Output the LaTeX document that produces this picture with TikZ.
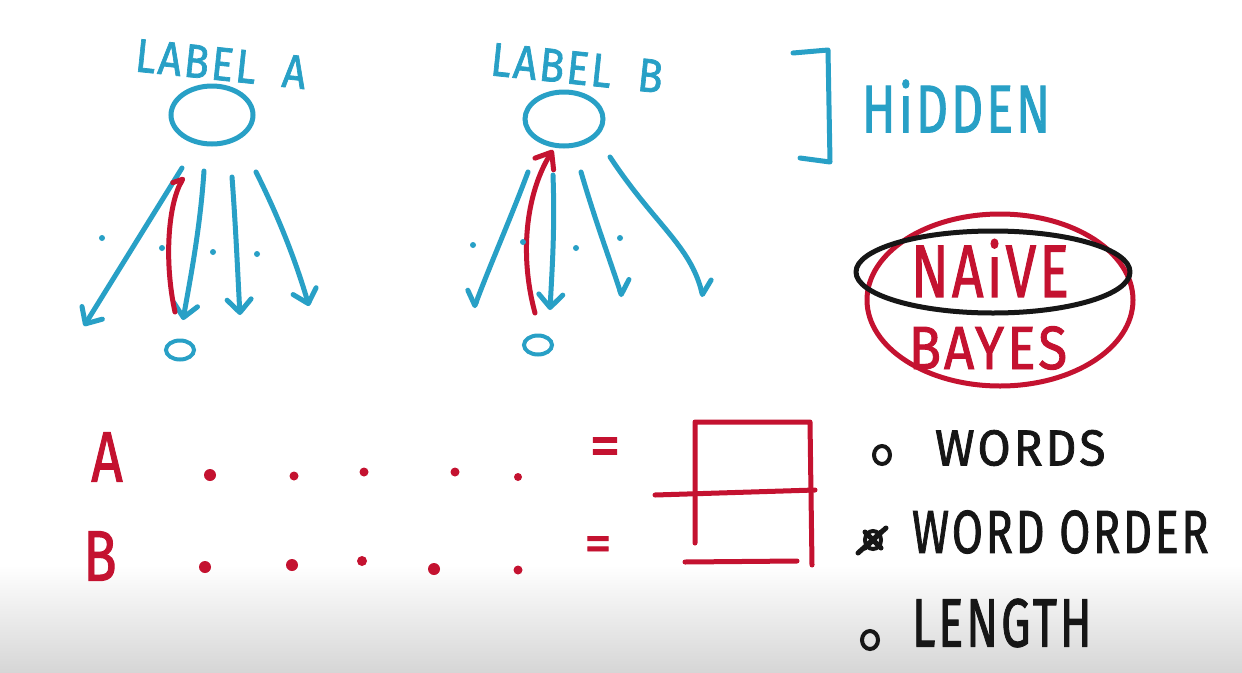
\documentclass[tikz,border=0pt]{standalone}
\usepackage{graphicx}
\usepackage{fontspec}
\newfontfamily\handfont[LetterSpace=6, FakeBold=1.6]{Fira Sans}
\usetikzlibrary{positioning,arrows.meta,shapes.geometric}
\definecolor{markerblue}{RGB}{40,160,198}
\definecolor{markerred}{RGB}{196,18,48}
\definecolor{markerblack}{RGB}{22,22,22}
\newcommand{\penword}[2]{\scalebox{1}[#1]{#2}}

\begin{document}
\begin{tikzpicture}[
    x=1pt, y=-1pt,
    every node/.style={inner sep=0pt, outer sep=0pt},
    hand/.style={font={\handfont\fontsize{#1}{#1}\selectfont}},
    bluetext/.style={hand=#1, text=markerblue},
    redtext/.style={hand=#1, text=markerred},
    blacktext/.style={hand=#1, text=markerblack},
    pen/.style={line width=5pt, line cap=round, line join=round},
    blueline/.style={pen, draw=markerblue},
    redline/.style={pen, draw=markerred},
    blackline/.style={pen, draw=markerblack},
    bluearrow/.style={blueline, -{Straight Barb[length=13pt, width=24pt, round]}},
    bluehookleft/.style={blueline, -{Straight Barb[left, length=12pt, width=24pt, round]}},
    bluehookright/.style={blueline, -{Straight Barb[right, length=12pt, width=24pt, round]}},
    redarrow/.style={redline, -{Straight Barb[length=14pt, width=22pt, round]}},
    redhook/.style={redline, -{Straight Barb[left, length=8pt, width=14pt, round]}},
    hidnode/.style={draw=markerblue, line width=5pt, ellipse},
    obsnode/.style={draw=markerblue, line width=4pt, ellipse, minimum width=28pt, minimum height=19pt},
    bullet/.style={draw=markerblack, line width=4pt, ellipse, minimum width=16pt, minimum height=18pt},
]
\useasboundingbox (0,0) rectangle (1242,672);
\fill[white] (0,0) rectangle (1242,672);
\shade[top color=white, bottom color=black!16] (0,565) rectangle (1242,672);

% ---- Left tree: Label A ----
\node[bluetext=41, rotate=-6] (labelA) at (221,64) {\penword{1.15}{LABEL\ \ A}};
\node[hidnode, minimum width=82pt, minimum height=58pt] (hidA) at (212,115) {};
\node[obsnode] (obsA) at (180,350) {};

\coordinate (a1top) at (182,168);
\coordinate (a1end) at (84,326);
\coordinate (a2top) at (204,171);
\coordinate (a2end) at (183,320);
\coordinate (a3top) at (232,177);
\coordinate (a3end) at (240,315);
\coordinate (a4top) at (256,172);
\coordinate (a4end) at (309,306);
\draw[bluearrow] (a1top) -- (a1end);
\draw[bluearrow] (a2top) .. controls (200,230) and (190,280) .. (a2end);
\draw[bluearrow] (a3top) .. controls (236,230) and (238,280) .. (a3end);
\draw[bluearrow] (a4top) .. controls (280,220) and (296,262) .. (a4end);

% red path back up
\coordinate (rAbot) at (175,312);
\coordinate (rAtop) at (184,177);
\draw[redhook] (rAbot) .. controls (164,262) and (168,205) .. (rAtop);

\fill[markerblue] (102,238) circle (3);
\fill[markerblue] (162,248) circle (3);
\fill[markerblue] (213,252) circle (3);
\fill[markerblue] (257,254) circle (3);

% ---- Right tree: Label B ----
\node[bluetext=41, rotate=-6] (labelB) at (577,68) {\penword{1.15}{LABEL\ \ B}};
\node[hidnode, minimum width=78pt, minimum height=54pt] (hidB) at (564,119) {};
\node[obsnode] (obsB) at (538,345) {};

\coordinate (b1top) at (528,172);
\coordinate (b1end) at (474,308);
\coordinate (b2top) at (553,175);
\coordinate (b2end) at (550,310);
\coordinate (b3top) at (581,172);
\coordinate (b3end) at (622,297);
\coordinate (b4top) at (610,157);
\coordinate (b4end) at (703,297);
\draw[bluehookright] (b1top) .. controls (510,220) and (490,265) .. (b1end);
\draw[bluearrow] (b2top) .. controls (555,230) and (552,270) .. (b2end);
\draw[bluehookleft] (b3top) .. controls (595,220) and (610,260) .. (b3end);
\draw[bluehookleft] (b4top) .. controls (655,225) and (690,245) .. (b4end);

% red path back up
\coordinate (rBbot) at (535,313);
\coordinate (rBtop) at (553,150);
\draw[redarrow] (rBbot) .. controls (518,250) and (528,190) .. (rBtop);

\fill[markerblue] (473,245) circle (3);
\fill[markerblue] (523,242) circle (3);
\fill[markerblue] (576,248) circle (3);
\fill[markerblue] (620,238) circle (3);

% ---- Hidden bracket ----
\draw[blueline] (793,53) -- (828,50) -- (830,162) -- (800,158);
\node[bluetext=50] (hidden) at (956,106) {\penword{1.35}{HiDDEN}};

% ---- Naive Bayes ----
\node[redtext=55] (naive) at (990,268) {\penword{1.35}{NAiVE}};
\node[redtext=53] (bayes) at (988,348) {\penword{1.15}{BAYES}};
\draw[redline] (1000,300) ellipse [x radius=133, y radius=86];
\draw[blackline] (993,272) ellipse [x radius=137, y radius=41];

% ---- Bottom: sequences A and B ----
\node[redtext=55] (seqA) at (107,457) {\penword{1.3}{A}};
\node[redtext=55] (seqB) at (100,556) {\penword{1.3}{B}};

\fill[markerred] (210,475) circle (6);
\fill[markerred] (294,476) circle (4.5);
\fill[markerred] (364,472) circle (4.5);
\fill[markerred] (455,472) circle (4.5);
\fill[markerred] (518,477) circle (4);

\fill[markerred] (205,567) circle (6);
\fill[markerred] (292,565) circle (6);
\fill[markerred] (362,561) circle (5);
\fill[markerred] (434,569) circle (6);
\fill[markerred] (518,570) circle (4.5);

\node[redtext=62] (eqA) at (605,452) {=};
\node[redtext=54] (eqB) at (598,549) {=};

% table
\draw[redline] (695,543) -- (695,422) -- (810,422) -- (812,565);
\draw[redline] (655,495) -- (815,490);
\draw[redline] (685,562) -- (797,561);

% ---- Feature list ----
\node[bullet] (bul1) at (882,455) {};
\node[blacktext=48, anchor=west] (words) at (935,448) {\penword{1.05}{WORDS}};
\node[bullet] (bul2) at (873,540) {};
\draw[blackline] (865,532) -- (881,548);
\draw[blackline] (881,532) -- (865,548);
\draw[blackline] (858,553) -- (886,528);
\node[blacktext=45, anchor=west] (order) at (912,532) {\penword{1.35}{WORD ORDER}};
\node[bullet] (bul3) at (870,640) {};
\node[blacktext=47, anchor=west] (length) at (912,623) {\penword{1.45}{LENGTH}};

\end{tikzpicture}
\end{document}
